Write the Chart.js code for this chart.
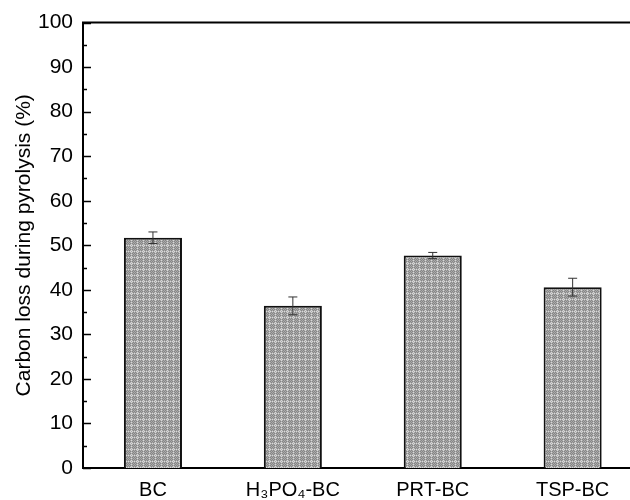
<!DOCTYPE html>
<html>
<head>
<meta charset="utf-8">
<script src="https://cdn.jsdelivr.net/npm/chart.js@4"></script>
<style>
  html, body { margin: 0; padding: 0; background: #fff; overflow: hidden; }
</style>
</head>
<body>
<canvas id="barChart" width="630" height="500"></canvas>
<script>
// Data
const categories = ['BC', 'H₃PO₄-BC', 'PRT-BC', 'TSP-BC'];
const carbonLoss = [51.7, 36.4, 47.7, 40.6];
const errors = [1.3, 2.0, 0.7, 2.0];
const yTicks = [0, 10, 20, 30, 40, 50, 60, 70, 80, 90, 100];

// Grey crosshatch fill like the original bars
function makePattern() {
  const tile = document.createElement('canvas');
  tile.width = 6;
  tile.height = 6;
  const t = tile.getContext('2d');
  t.fillStyle = '#868686';
  t.fillRect(0, 0, 6, 6);
  for (let x = 0; x < 6; x++) {
    for (let y = 0; y < 6; y++) {
      if ((x + y) % 2 === 0) {
        t.fillStyle = '#aaaaaa';
        t.fillRect(x, y, 1, 1);
      }
      if ((x === 5 || y === 5) && (x + y) % 2 === 1) {
        t.fillStyle = '#d8d8d8';
        t.fillRect(x, y, 1, 1);
      }
    }
  }
  return t.createPattern(tile, 'repeat');
}

// Error bars, top frame line and inward ticks
const extrasPlugin = {
  id: 'extras',
  afterDatasetsDraw(chart) {
    const ctx = chart.ctx;
    const meta = chart.getDatasetMeta(0);
    const yScale = chart.scales.y;
    ctx.save();
    ctx.strokeStyle = '#333';
    ctx.lineWidth = 1;
    meta.data.forEach((bar, i) => {
      const yTop = yScale.getPixelForValue(carbonLoss[i] + errors[i]);
      const yBot = yScale.getPixelForValue(carbonLoss[i] - errors[i]);
      ctx.beginPath();
      ctx.moveTo(bar.x, yTop);
      ctx.lineTo(bar.x, yBot);
      ctx.moveTo(bar.x - 4.5, yTop);
      ctx.lineTo(bar.x + 4.5, yTop);
      ctx.moveTo(bar.x - 4.5, yBot);
      ctx.lineTo(bar.x + 4.5, yBot);
      ctx.stroke();
    });
    ctx.restore();
  },
  afterDraw(chart) {
    const ctx = chart.ctx;
    const area = chart.chartArea;
    const yScale = chart.scales.y;
    ctx.save();
    ctx.strokeStyle = '#000';
    ctx.lineWidth = 2;
    ctx.beginPath();
    ctx.moveTo(area.left - 1, area.top);
    ctx.lineTo(area.right, area.top);
    ctx.stroke();
    ctx.lineWidth = 1.5;
    for (let v = 0; v <= 100; v += 5) {
      const y = Math.round(yScale.getPixelForValue(v)) + 0.5;
      const len = v % 10 === 0 ? 8 : 4;
      ctx.beginPath();
      ctx.moveTo(area.left, y);
      ctx.lineTo(area.left + len, y);
      ctx.stroke();
    }
    ctx.restore();
  }
};

const ctx = document.getElementById('barChart').getContext('2d');
const barChart = new Chart(ctx, {
  type: 'bar',
  data: {
    datasets: [{
      label: 'Carbon loss',
      data: carbonLoss.map((v, i) => ({ x: i, y: v })),
      backgroundColor: makePattern(),
      borderColor: '#111',
      borderWidth: 2,
      barPercentage: 0.415,
      categoryPercentage: 1
    }]
  },
  options: {
    responsive: false,
    devicePixelRatio: 1,
    animation: false,
    layout: { padding: { top: 22, right: 0, left: 0, bottom: 0 } },
    plugins: {
      legend: { display: false },
      tooltip: { enabled: false }
    },
    scales: {
      x: {
        type: 'linear',
        offset: false,
        min: -0.5,
        max: 3.41,
        afterBuildTicks: scale => { scale.ticks = categories.map((c, i) => ({ value: i })); },
        afterFit: scale => { scale.height = 32; },
        grid: { display: false, drawTicks: false, offset: false },
        border: { display: true, color: '#000', width: 2 },
        ticks: {
          callback: v => categories[v],
          color: '#000',
          padding: 10,
          maxRotation: 0,
          font: { family: '"Liberation Sans", Arial, sans-serif', size: 20 }
        }
      },
      y: {
        min: 0,
        max: 100,
        afterBuildTicks: scale => { scale.ticks = yTicks.map(v => ({ value: v })); },
        afterFit: scale => { scale.width = 83; },
        grid: { display: false, drawTicks: false },
        border: { display: true, color: '#000', width: 2 },
        ticks: {
          color: '#000',
          padding: 10,
          font: { family: '"Liberation Sans", Arial, sans-serif', size: 21 }
        },
        title: {
          display: true,
          text: 'Carbon loss during pyrolysis (%)',
          color: '#000',
          padding: { top: 12, bottom: 0 },
          font: { family: '"Liberation Sans", Arial, sans-serif', size: 21 }
        }
      }
    }
  },
  plugins: [extrasPlugin]
});
</script>
</body>
</html>
